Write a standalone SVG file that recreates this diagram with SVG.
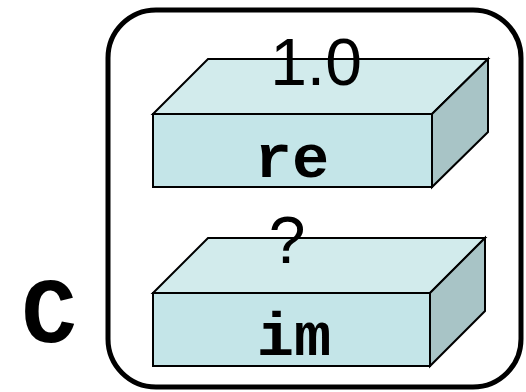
<svg xmlns="http://www.w3.org/2000/svg" width="526" height="392" viewBox="0 0 526 392">
<style>
.front{fill:#C4E5E8;stroke:#000;stroke-width:2;stroke-linejoin:miter}
.top{fill:#D2EBEC;stroke:#000;stroke-width:2;stroke-linejoin:miter}
.side{fill:#A8C4C6;stroke:#000;stroke-width:2;stroke-linejoin:miter}
.val{font-family:"Liberation Sans",Arial,sans-serif;font-size:66px;text-anchor:middle;fill:#000}
.fld{font-family:"Liberation Mono","Courier New",monospace;font-weight:bold;font-size:62px;text-anchor:middle;fill:#000}
</style>
<rect x="108" y="10" width="413" height="377" rx="48" ry="48" fill="#fff" stroke="#000" stroke-width="5"/>
<text class="fld" x="49" y="342" style="font-size:92px">C</text>
<g id="re">
<polygon class="top" points="153,114 208,59 488,59 432,114"/>
<polygon class="side" points="432,114 488,59 488,132 432,187"/>
<rect class="front" x="153" y="114" width="279" height="73"/>
<text class="val" x="316" y="85">1.0</text>
<text class="fld" x="292" y="177">re</text>
</g>
<g id="im">
<polygon class="top" points="153,293 208,238 485,238 430,293"/>
<polygon class="side" points="430,293 485,238 485,311 430,366"/>
<rect class="front" x="153" y="293" width="277" height="73"/>
<text class="val" x="287" y="263">?</text>
<text class="fld" x="294" y="355">im</text>
</g>
</svg>
